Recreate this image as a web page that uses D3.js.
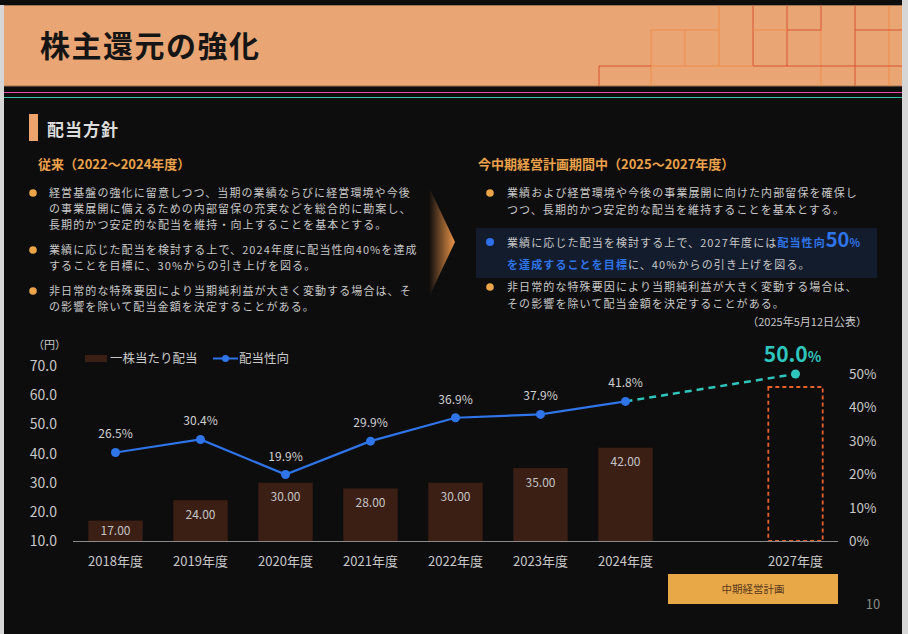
<!DOCTYPE html>
<html lang="ja">
<head>
<meta charset="UTF-8">
<title>株主還元の強化</title>
<script src="https://d3js.org/d3.v7.min.js"></script>
<style>
  body { margin: 0; background: #0d0d0d; }
  svg text { font-family: "Noto Sans CJK JP", "Noto Sans", sans-serif; }
</style>
</head>
<body>
<script>
// chart data
const slots = ["2018年度", "2019年度", "2020年度", "2021年度", "2022年度", "2023年度", "2024年度", "", "2027年度"];
const years = ["2018年度", "2019年度", "2020年度", "2021年度", "2022年度", "2023年度", "2024年度"];
const dividend = [17.00, 24.00, 30.00, 28.00, 30.00, 35.00, 42.00];
const payout = [26.5, 30.4, 19.9, 29.9, 36.9, 37.9, 41.8];
const targetYear = "2027年度";
const targetPayout = 50.0;
const planBox = 62.8;          // placeholder height of the dashed 2027 bar (yen scale)
const yenTicks = [10, 20, 30, 40, 50, 60, 70];
const pctTicks = [0, 10, 20, 30, 40, 50];

// policy texts
const leftBullets = [
  ["経営基盤の強化に留意しつつ、当期の業績ならびに経営環境や今後",
   "の事業展開に備えるための内部留保の充実などを総合的に勘案し、",
   "長期的かつ安定的な配当を維持・向上することを基本とする。"],
  ["業績に応じた配当を検討する上で、2024年度に配当性向40%を達成",
   "することを目標に、30%からの引き上げを図る。"],
  ["非日常的な特殊要因により当期純利益が大きく変動する場合は、そ",
   "の影響を除いて配当金額を決定することがある。"]
];
const rightBullet1 = ["業績および経営環境や今後の事業展開に向けた内部留保を確保し",
                      "つつ、長期的かつ安定的な配当を維持することを基本とする。"];
const rightBullet3 = ["非日常的な特殊要因により当期純利益が大きく変動する場合は、",
                      "その影響を除いて配当金額を決定することがある。"];

const W = 908, H = 634;
const txt = "#c8c8c8", orange = "#eba24a", blue = "#2f74e8", teal = "#2ec5bd";

const svg = d3.select("body").append("svg").attr("width", W).attr("height", H);

// page frame
svg.append("rect").attr("width", W).attr("height", H).attr("fill", "#0d0d0d");
svg.append("rect").attr("x", 0).attr("y", 5).attr("width", 4).attr("height", H - 5).attr("fill", "#d6d6d6");
svg.append("rect").attr("x", 902).attr("y", 0).attr("width", 6).attr("height", H).attr("fill", "#d6d6d6");

// header band
svg.append("rect").attr("x", 4).attr("y", 5).attr("width", 898).attr("height", 81).attr("fill", "#e9a573");
svg.append("line").attr("x1", 4).attr("x2", 902).attr("y1", 86).attr("y2", 86).attr("stroke", "#9c7355").attr("stroke-width", 1.2);
svg.append("line").attr("x1", 4).attr("x2", 902).attr("y1", 5.5).attr("y2", 5.5).attr("stroke", "#9c7355").attr("stroke-width", 1);

// header grid decoration [x1, y1, x2, y2, red?]
const deco = [
  [651, 30, 651, 86, 0], [685, 30, 685, 66, 0], [719, 6, 719, 66, 0], [753, 6, 753, 66, 1],
  [787, 6, 787, 66, 1], [821, 6, 821, 30, 1], [821, 30, 821, 86, 0], [855, 6, 855, 86, 1],
  [889, 6, 889, 86, 0], [599, 66, 599, 86, 1],
  [651, 30, 719, 30, 0], [753, 30, 787, 30, 0], [787, 30, 821, 30, 1], [855, 30, 902, 30, 1],
  [599, 66, 651, 66, 1], [651, 66, 753, 66, 0], [753, 66, 902, 66, 1]
];
svg.append("g").attr("opacity", 0.85).selectAll("line").data(deco).join("line")
  .attr("x1", d => d[0]).attr("y1", d => d[1]).attr("x2", d => d[2]).attr("y2", d => d[3])
  .attr("stroke", d => d[4] ? "#d6452a" : "#f08a42").attr("stroke-width", 1);

svg.append("text").attr("x", 40).attr("y", 57).text("株主還元の強化")
  .attr("font-size", 30).attr("font-weight", 700).attr("letter-spacing", 1.5).attr("fill", "#151515");

svg.append("line").attr("x1", 4).attr("x2", 902).attr("y1", 92.5).attr("y2", 92.5).attr("stroke", "#e448a8").attr("stroke-width", 1.2);
svg.append("line").attr("x1", 4).attr("x2", 902).attr("y1", 97.5).attr("y2", 97.5).attr("stroke", "#38c2b2").attr("stroke-width", 1);

// section heading
svg.append("rect").attr("x", 29).attr("y", 114).attr("width", 9).attr("height", 27).attr("fill", "#eda46c");
svg.append("text").attr("x", 47).attr("y", 136).text("配当方針")
  .attr("font-size", 17).attr("font-weight", 700).attr("letter-spacing", 1).attr("fill", "#dcdcdc");

// left column
svg.append("text").attr("x", 38).attr("y", 169).text("従来（2022～2024年度）")
  .attr("font-size", 13).attr("font-weight", 700).attr("fill", orange);

const leftY = [197, 254, 295];
leftBullets.forEach((lines, i) => {
  svg.append("circle").attr("cx", 33).attr("cy", leftY[i] - 4).attr("r", 3.8).attr("fill", "#eba448");
  const t = svg.append("text").attr("font-size", 11).attr("letter-spacing", 1.1).attr("fill", txt);
  lines.forEach((l, j) => t.append("tspan").attr("x", 49).attr("y", leftY[i] + j * 16).text(l));
});

// arrow
const defs = svg.append("defs");
const grad = defs.append("linearGradient").attr("id", "arrowGrad");
grad.append("stop").attr("offset", "0%").attr("stop-color", "#0d0d0d");
grad.append("stop").attr("offset", "100%").attr("stop-color", "#ec9448");
svg.append("polygon").attr("points", "429,187 455,242 429,297").attr("fill", "url(#arrowGrad)");

// right column
svg.append("text").attr("x", 478).attr("y", 169).text("今中期経営計画期間中（2025～2027年度）")
  .attr("font-size", 13).attr("font-weight", 700).attr("fill", orange);

function bulletBlock(lines, y, dotColor) {
  svg.append("circle").attr("cx", 490).attr("cy", y - 4).attr("r", 3.8).attr("fill", dotColor);
  const t = svg.append("text").attr("font-size", 11).attr("letter-spacing", 1.1).attr("fill", txt);
  lines.forEach((l, j) => t.append("tspan").attr("x", 507).attr("y", y + j * 16.5).text(l));
}
bulletBlock(rightBullet1, 197, "#eba448");

svg.append("rect").attr("x", 476).attr("y", 228).attr("width", 401).attr("height", 50).attr("fill", "#131c2d");
svg.append("circle").attr("cx", 490).attr("cy", 242).attr("r", 4).attr("fill", "#2f6fe8");
const hl1 = svg.append("text").attr("x", 507).attr("y", 247).attr("font-size", 11).attr("letter-spacing", 1.1).attr("fill", txt);
hl1.append("tspan").text("業績に応じた配当を検討する上で、2027年度には");
hl1.append("tspan").attr("fill", blue).attr("font-weight", 700).text("配当性向");
hl1.append("tspan").attr("fill", blue).attr("font-weight", 700).attr("font-size", 20).attr("letter-spacing", 0).text("50");
hl1.append("tspan").attr("fill", blue).attr("font-weight", 700).attr("font-size", 11).text("%");
const hl2 = svg.append("text").attr("x", 507).attr("y", 269).attr("font-size", 11).attr("letter-spacing", 1.1).attr("fill", txt);
hl2.append("tspan").attr("fill", blue).attr("font-weight", 700).text("を達成することを目標");
hl2.append("tspan").text("に、40%からの引き上げを図る。");

bulletBlock(rightBullet3, 291, "#eba448");
svg.append("text").attr("x", 867).attr("y", 326).attr("text-anchor", "end").text("（2025年5月12日公表）")
  .attr("font-size", 11).attr("fill", txt);

// chart
const x = d3.scaleBand().domain(slots).range([73, 838]).paddingInner(0.36).paddingOuter(0.18);
const yYen = d3.scaleLinear().domain([10, 70]).range([541, 366]);
const yPct = d3.scaleLinear().domain([0, 50]).range([541, 374]);
const cx = d => x(d) + x.bandwidth() / 2;

svg.append("text").attr("x", 33).attr("y", 349).text("（円）").attr("font-size", 11).attr("fill", txt);

// left axis
svg.append("g").selectAll("text").data(yenTicks).join("text")
  .attr("x", 57).attr("y", d => yYen(d) + 5).attr("text-anchor", "end")
  .attr("font-size", 14).attr("fill", txt).text(d => d.toFixed(1));

// right axis
svg.append("g").selectAll("text").data(pctTicks).join("text")
  .attr("x", 849).attr("y", d => yPct(d) + 5)
  .attr("font-size", 13.5).attr("fill", txt).text(d => d + "%");

// bars
const bars = years.map((y, i) => ({ y, v: dividend[i] }));
svg.append("g").selectAll("rect").data(bars).join("rect")
  .attr("x", d => x(d.y)).attr("width", x.bandwidth())
  .attr("y", d => yYen(d.v)).attr("height", d => yYen(10) - yYen(d.v))
  .attr("fill", "#3b1e14");
svg.append("g").selectAll("text").data(bars).join("text")
  .attr("x", d => cx(d.y))
  .attr("y", d => Math.min(yYen(d.v) + 14, (yYen(d.v) + yYen(10)) / 2) + 4.5)
  .attr("text-anchor", "middle")
  .attr("font-size", 12).attr("fill", "#c4c4c4").text(d => d.v.toFixed(2));

// dashed 2027 placeholder bar
svg.append("rect").attr("x", x(targetYear)).attr("width", x.bandwidth())
  .attr("y", yYen(planBox)).attr("height", yYen(10) - yYen(planBox))
  .attr("fill", "none").attr("stroke", "#e8612a").attr("stroke-width", 1.8).attr("stroke-dasharray", "4,3");

// baseline
svg.append("line").attr("x1", 73).attr("x2", 838).attr("y1", 541.5).attr("y2", 541.5)
  .attr("stroke", "#8a8a8a").attr("stroke-width", 1.2);

// x labels
svg.append("g").selectAll("text").data(slots.filter(d => d)).join("text")
  .attr("x", d => cx(d)).attr("y", 566).attr("text-anchor", "middle")
  .attr("font-size", 13).attr("fill", txt).text(d => d);

// payout line
const pts = years.map((y, i) => ({ y, v: payout[i] }));
const last = pts[pts.length - 1];
svg.append("line")
  .attr("x1", cx(last.y)).attr("y1", yPct(last.v)).attr("x2", cx(targetYear)).attr("y2", yPct(targetPayout))
  .attr("stroke", teal).attr("stroke-width", 2.5).attr("stroke-dasharray", "7,5");
svg.append("path").datum(pts)
  .attr("d", d3.line().x(d => cx(d.y)).y(d => yPct(d.v)))
  .attr("fill", "none").attr("stroke", blue).attr("stroke-width", 2.2);
svg.append("g").selectAll("circle").data(pts).join("circle")
  .attr("cx", d => cx(d.y)).attr("cy", d => yPct(d.v)).attr("r", 4.5).attr("fill", blue);
svg.append("g").selectAll("text").data(pts).join("text")
  .attr("x", d => cx(d.y)).attr("y", d => yPct(d.v) - 14).attr("text-anchor", "middle")
  .attr("font-size", 12).attr("fill", "#d0d0d0").text(d => d.v.toFixed(1) + "%");

svg.append("circle").attr("cx", cx(targetYear)).attr("cy", yPct(targetPayout)).attr("r", 4.5).attr("fill", teal);
const tl = svg.append("text").attr("x", cx(targetYear) - 3).attr("y", yPct(targetPayout) - 12)
  .attr("text-anchor", "middle").attr("fill", teal).attr("font-weight", 700);
tl.append("tspan").attr("font-size", 21).text(targetPayout.toFixed(1));
tl.append("tspan").attr("font-size", 14).text("%");

// legend
svg.append("rect").attr("x", 85).attr("y", 355).attr("width", 22).attr("height", 7).attr("fill", "#3b1e14");
svg.append("text").attr("x", 110).attr("y", 363).text("一株当たり配当").attr("font-size", 12.5).attr("fill", txt);
svg.append("line").attr("x1", 213).attr("x2", 238).attr("y1", 358.5).attr("y2", 358.5).attr("stroke", blue).attr("stroke-width", 2);
svg.append("circle").attr("cx", 225.5).attr("cy", 358.5).attr("r", 3.5).attr("fill", blue);
svg.append("text").attr("x", 239).attr("y", 363).text("配当性向").attr("font-size", 12.5).attr("fill", txt);

// plan period tag
const gapStart = x("") - x.step() * x.paddingInner() / 2;
svg.append("rect").attr("x", gapStart).attr("y", 574).attr("width", 838 - gapStart).attr("height", 30).attr("fill", "#e8a848");
svg.append("text").attr("x", (gapStart + 838) / 2).attr("y", 593).attr("text-anchor", "middle")
  .text("中期経営計画").attr("font-size", 10.5).attr("fill", "#5a3b1c");

// page number
svg.append("text").attr("x", 873).attr("y", 609).attr("text-anchor", "middle").text("10")
  .attr("font-size", 13).attr("fill", "#8a8a8a");
</script>
</body>
</html>
